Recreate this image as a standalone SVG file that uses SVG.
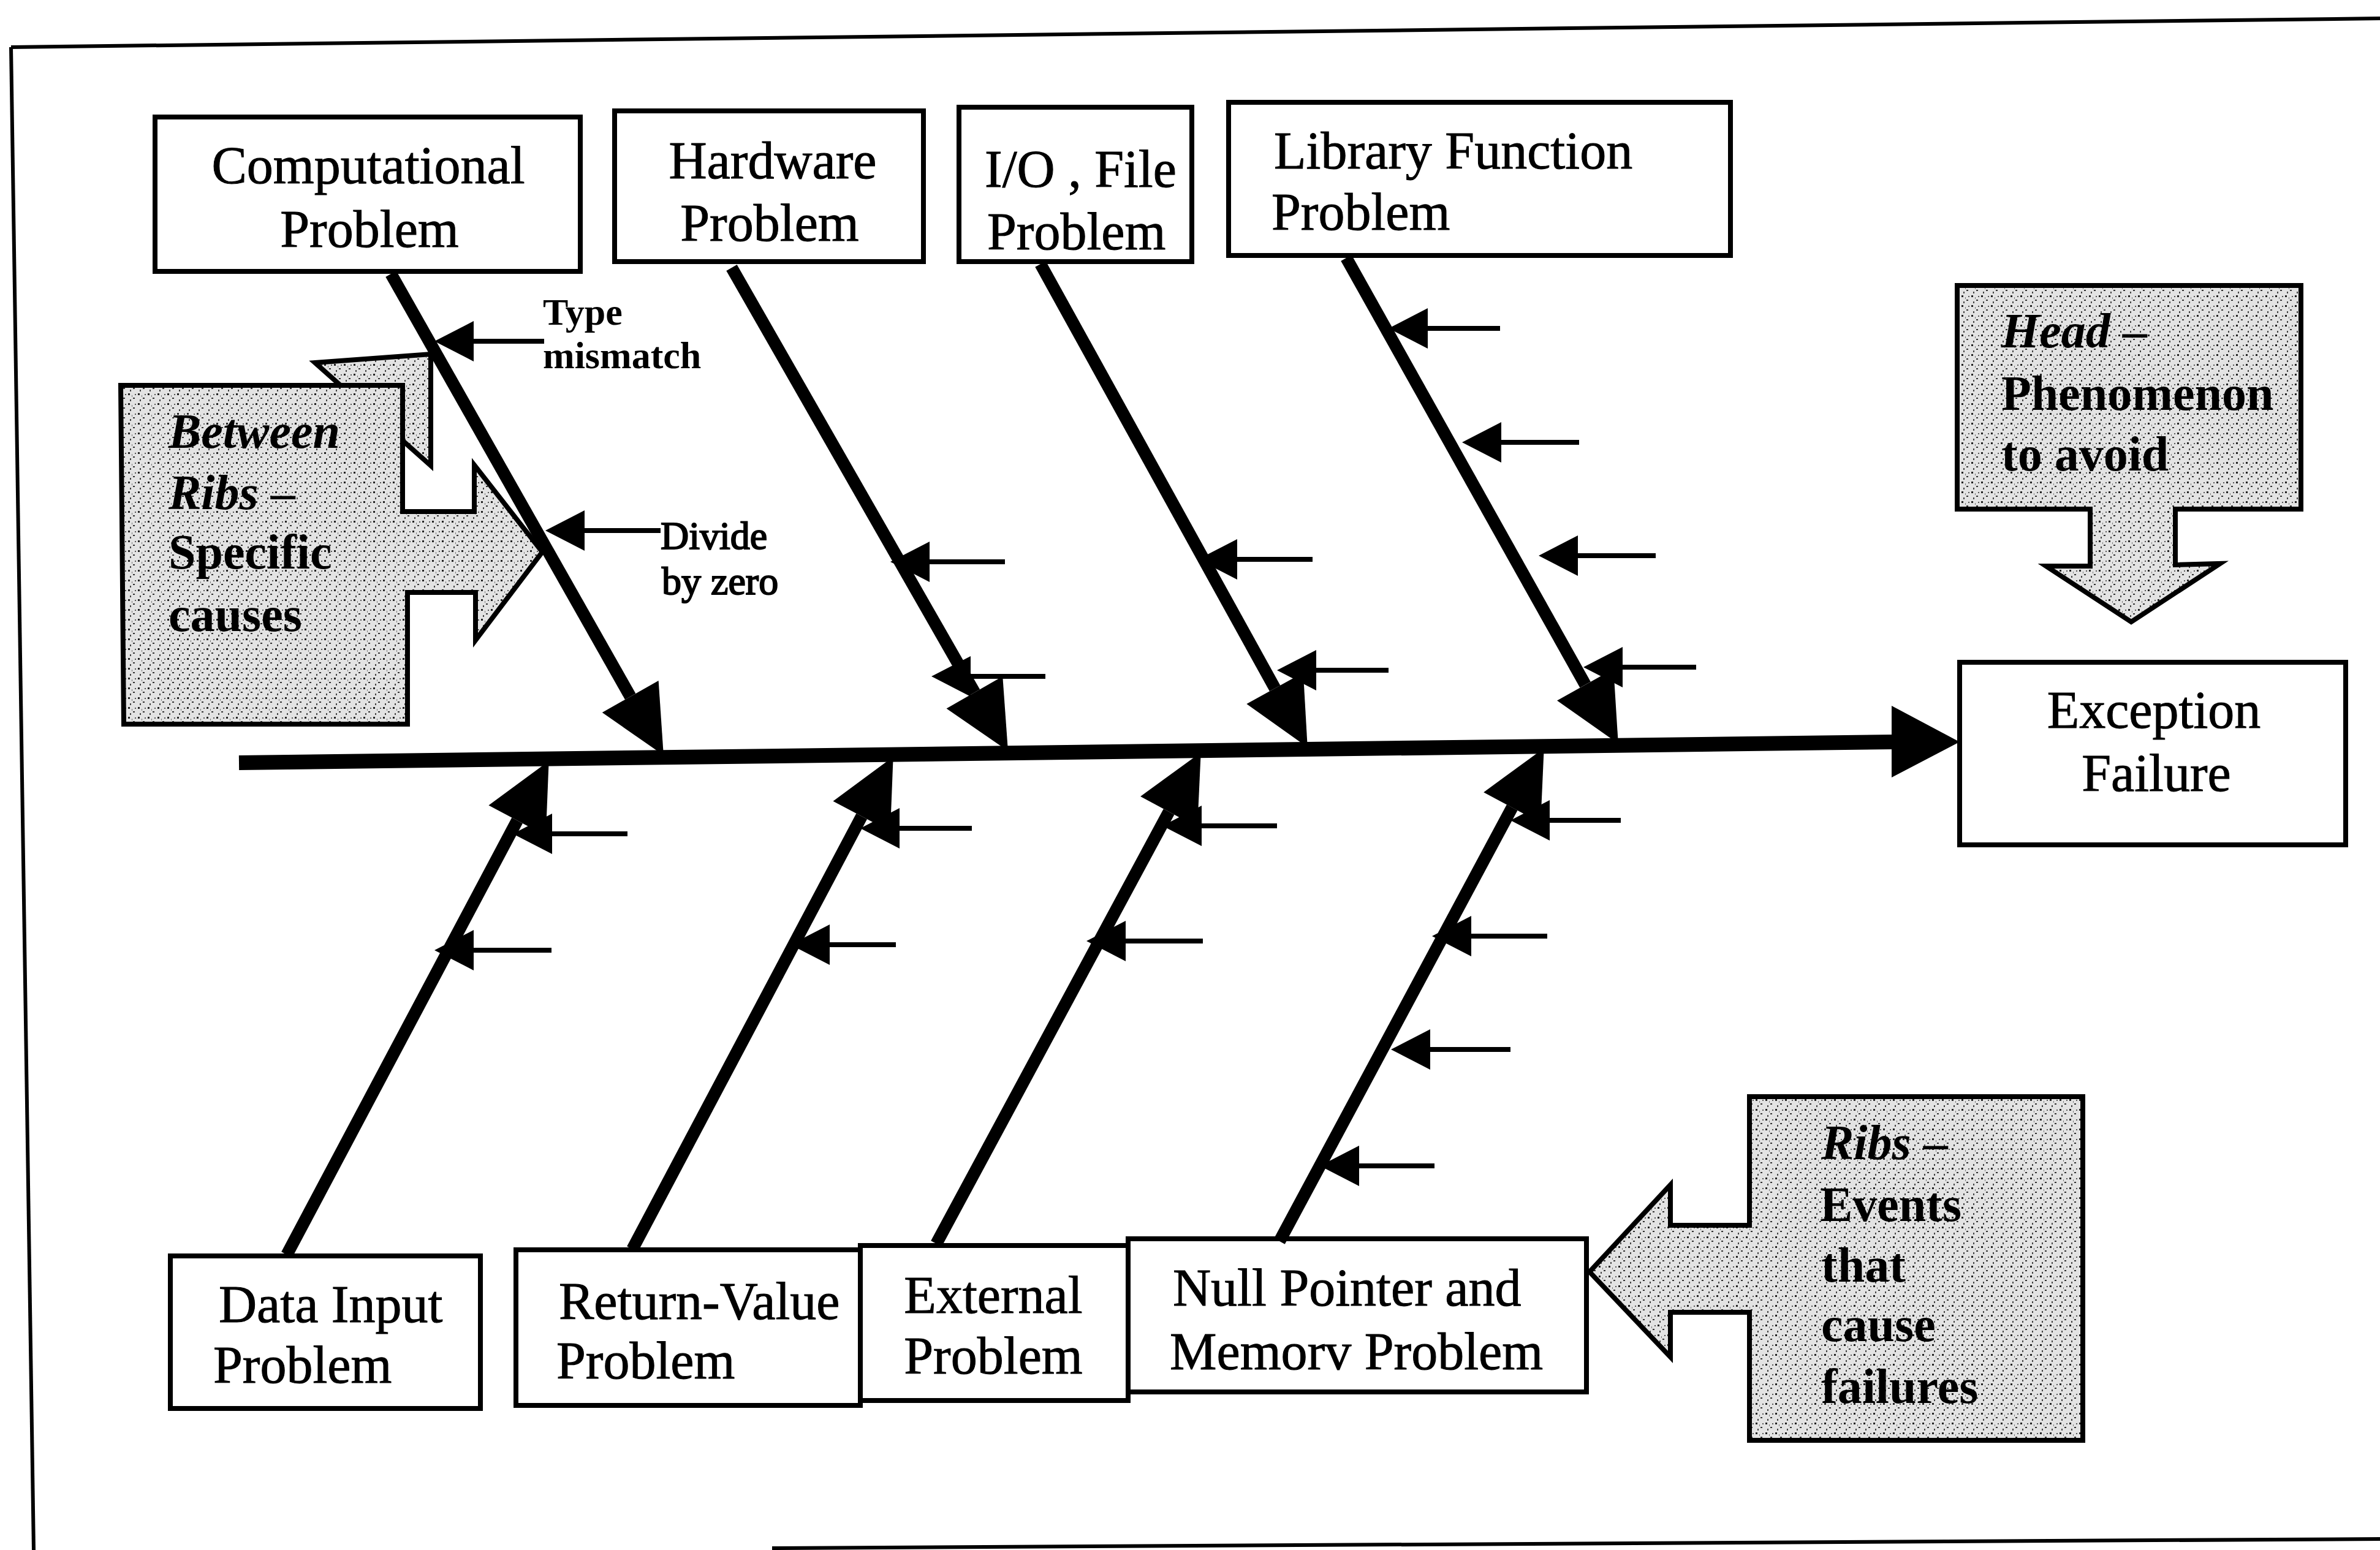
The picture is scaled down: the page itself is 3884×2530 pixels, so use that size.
<svg xmlns="http://www.w3.org/2000/svg" width="3884" height="2530" viewBox="0 0 3884 2530">
  <style>
    .box { fill: #ffffff; stroke: #000000; stroke-width: 8; }
    .lbl { font-family: "Liberation Serif", "Times New Roman", serif; font-size: 86px; fill: #000000; stroke: #000000; stroke-width: 1; }
    .mid { text-anchor: middle; }
    .note { font-family: "Liberation Serif", "Times New Roman", serif; font-size: 64px; fill: #000000; stroke: #000000; stroke-width: 2; }
    .notebold { font-family: "Liberation Serif", "Times New Roman", serif; font-size: 62px; font-weight: bold; fill: #000000; }
    .ct { font-family: "Liberation Serif", "Times New Roman", serif; font-size: 80px; font-weight: bold; fill: #000000; }
    .bi { font-style: italic; }
    .callout { fill: url(#grain); stroke: #000000; stroke-width: 8; stroke-linejoin: miter; }
    .frame { stroke: #000000; stroke-width: 6; fill: none; }
    .spine { stroke: #000000; stroke-width: 24; fill: none; }
    .rib { stroke: #000000; stroke-width: 20; fill: none; marker-end: url(#ribHead); }
    .cause { stroke: #000000; stroke-width: 8; fill: none; marker-end: url(#causeHead); }
  </style>
  <defs>
    <pattern id="grain" width="16" height="16" patternUnits="userSpaceOnUse">
      <rect width="16" height="16" fill="#e3e3e3"/>
      <rect x="1" y="2" width="3" height="3" fill="#222222"/>
      <rect x="9" y="9" width="3" height="2" fill="#333333"/>
      <rect x="12" y="3" width="2" height="2" fill="#555555"/>
      <rect x="4" y="12" width="2" height="3" fill="#444444"/>
      <rect x="7" y="5" width="1" height="3" fill="#777777"/>
    </pattern>
    <marker id="ribHead" markerUnits="userSpaceOnUse" markerWidth="110" markerHeight="110" viewBox="0 -50 100 100" refX="0" refY="0" orient="auto" overflow="visible">
      <path d="M0,-48 L100,0 L0,48 Z" fill="#000000"/>
    </marker>
    <marker id="causeHead" markerUnits="userSpaceOnUse" markerWidth="70" markerHeight="70" viewBox="0 -35 64 70" refX="0" refY="0" orient="auto" overflow="visible">
      <path d="M0,-33 L64,0 L0,33 Z" fill="#000000"/>
    </marker>
  </defs>

  <rect width="3884" height="2530" fill="#ffffff"/>

  <!-- outer frame -->
  <g id="frame">
    <line class="frame" x1="18" y1="77" x2="3884" y2="30"/>
    <line class="frame" x1="18" y1="77" x2="55" y2="2530"/>
    <line class="frame" x1="1260" y1="2527" x2="3884" y2="2512"/>
  </g>

  <!-- shaded callouts -->
  <g id="callout-between">
    <polygon class="callout" points="514,592 703,578 703,760"/>
    <polygon class="callout" points="197,629 657,629 657,835 774,835 774,759 885,901 776,1045 776,967 665,967 665,1182 202,1182"/>
    <text class="ct" x="275" y="731"><tspan class="bi">Between</tspan></text>
    <text class="ct" x="275" y="831"><tspan class="bi">Ribs</tspan> –</text>
    <text class="ct" x="275" y="928">Specific</text>
    <text class="ct" x="275" y="1030">causes</text>
  </g>

  <g id="callout-head">
    <polygon class="callout" points="3194,466 3755,466 3755,831 3550,831 3550,922 3623,920 3478,1015 3339,924 3411,924 3411,831 3194,831"/>
    <text class="ct" x="3266" y="567"><tspan class="bi">Head</tspan> –</text>
    <text class="ct" x="3266" y="669">Phenomenon</text>
    <text class="ct" x="3266" y="768">to avoid</text>
  </g>

  <g id="callout-ribs">
    <polygon class="callout" points="2855,1790 3399,1790 3399,2351 2855,2351 2855,2142 2726,2142 2726,2215 2594,2076 2726,1934 2726,2000 2855,2000"/>
    <text class="ct" x="2972" y="1892"><tspan class="bi">Ribs</tspan> –</text>
    <text class="ct" x="2970" y="1993">Events</text>
    <text class="ct" x="2972" y="2092">that</text>
    <text class="ct" x="2972" y="2189">cause</text>
    <text class="ct" x="2972" y="2290">failures</text>
  </g>

  <!-- category boxes above the spine -->
  <g id="node-computational">
    <rect class="box" x="253" y="191" width="694" height="252"/>
    <text class="lbl mid" x="601" y="299">Computational</text>
    <text class="lbl mid" x="603" y="403">Problem</text>
  </g>
  <g id="node-hardware">
    <rect class="box" x="1003" y="181" width="504" height="246"/>
    <text class="lbl mid" x="1261" y="291">Hardware</text>
    <text class="lbl mid" x="1256" y="393">Problem</text>
  </g>
  <g id="node-io">
    <rect class="box" x="1565" y="175" width="380" height="252"/>
    <text class="lbl" x="1607" y="305">I/O , File</text>
    <text class="lbl" x="1611" y="407">Problem</text>
  </g>
  <g id="node-library">
    <rect class="box" x="2005" y="167" width="819" height="250"/>
    <text class="lbl" x="2079" y="275">Library Function</text>
    <text class="lbl" x="2075" y="375">Problem</text>
  </g>

  <!-- effect box -->
  <g id="node-exception">
    <rect class="box" x="3198" y="1081" width="630" height="298"/>
    <text class="lbl mid" x="3515" y="1188">Exception</text>
    <text class="lbl mid" x="3519" y="1291">Failure</text>
  </g>

  <!-- category boxes below the spine -->
  <g id="node-data-input">
    <rect class="box" x="278" y="2050" width="506" height="249"/>
    <text class="lbl" x="357" y="2158">Data Input</text>
    <text class="lbl" x="348" y="2257">Problem</text>
  </g>
  <g id="node-return-value">
    <rect class="box" x="842" y="2040" width="562" height="254"/>
    <text class="lbl" x="912" y="2153">Return-Value</text>
    <text class="lbl" x="908" y="2250">Problem</text>
  </g>
  <g id="node-external">
    <rect class="box" x="1404" y="2033" width="437" height="253"/>
    <text class="lbl mid" x="1621" y="2143">External</text>
    <text class="lbl mid" x="1621" y="2242">Problem</text>
  </g>
  <g id="node-null-pointer">
    <rect class="box" x="1841" y="2022" width="748" height="250"/>
    <text class="lbl" x="1914" y="2131">Null Pointer and</text>
    <text class="lbl" x="1909" y="2235">Memorv Problem</text>
  </g>

  <!-- spine, ribs and individual causes -->
  <g id="connectors">
    <line class="spine" x1="390" y1="1245" x2="3090" y2="1211"/>
    <polygon points="3087,1152 3198,1211 3087,1269" fill="#000000"/>

    <line class="rib" x1="638" y1="447" x2="1028.7" y2="1137.0"/>
    <line class="rib" x1="1194" y1="437" x2="1590.4" y2="1130.2"/>
    <line class="rib" x1="1698" y1="431" x2="2080.6" y2="1123.5"/>
    <line class="rib" x1="2197" y1="421" x2="2587.1" y2="1117.7"/>

    <line class="rib" x1="468" y1="2048" x2="844.1" y2="1339.3"/>
    <line class="rib" x1="1032" y1="2039" x2="1406.2" y2="1332.4"/>
    <line class="rib" x1="1528" y1="2030" x2="1907.6" y2="1325.0"/>
    <line class="rib" x1="2088" y1="2026" x2="2467.7" y2="1318.1"/>

    <line class="cause" x1="888" y1="557" x2="773" y2="557"/>
    <line class="cause" x1="1078" y1="866" x2="954" y2="866"/>

    <line class="cause" x1="1640" y1="917" x2="1517" y2="917"/>
    <line class="cause" x1="1706" y1="1104" x2="1584" y2="1104"/>

    <line class="cause" x1="2142" y1="913" x2="2019" y2="913"/>
    <line class="cause" x1="2266" y1="1094" x2="2148" y2="1094"/>

    <line class="cause" x1="2448" y1="536" x2="2330" y2="536"/>
    <line class="cause" x1="2577" y1="722" x2="2450" y2="722"/>
    <line class="cause" x1="2702" y1="907" x2="2575" y2="907"/>
    <line class="cause" x1="2768" y1="1089" x2="2648" y2="1089"/>

    <line class="cause" x1="1024" y1="1361" x2="901" y2="1361"/>
    <line class="cause" x1="900" y1="1551" x2="773" y2="1551"/>

    <line class="cause" x1="1586" y1="1352" x2="1468" y2="1352"/>
    <line class="cause" x1="1462" y1="1542" x2="1354" y2="1542"/>

    <line class="cause" x1="2084" y1="1348" x2="1961" y2="1348"/>
    <line class="cause" x1="1963" y1="1536" x2="1837" y2="1536"/>

    <line class="cause" x1="2645" y1="1339" x2="2529" y2="1339"/>
    <line class="cause" x1="2525" y1="1528" x2="2401" y2="1528"/>
    <line class="cause" x1="2465" y1="1713" x2="2334" y2="1713"/>
    <line class="cause" x1="2341" y1="1903" x2="2218" y2="1903"/>
  </g>

  <!-- cause labels -->
  <g id="labels">
    <text class="notebold" x="886" y="530">Type</text>
    <text class="notebold" x="886" y="601">mismatch</text>
    <text class="note" x="1078" y="896">Divide</text>
    <text class="note" x="1080" y="970">by zero</text>
  </g>
</svg>
